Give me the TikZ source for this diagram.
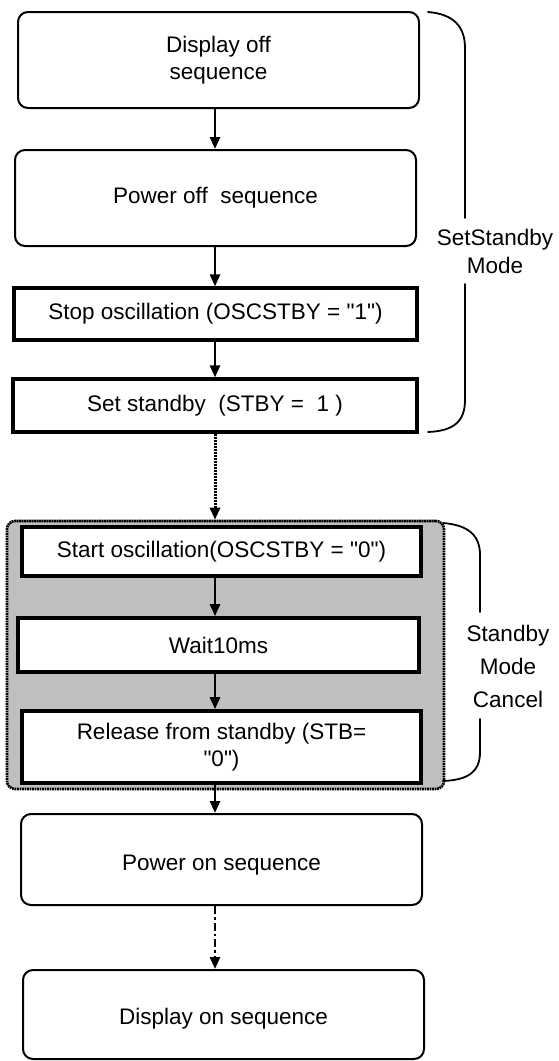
\documentclass[tikz,border=0pt]{standalone}
\usepackage{fontspec}
\setmainfont{Liberation Sans}[Ligatures=TeXOff]
\usetikzlibrary{arrows.meta}
\newcommand{\lowertext}[2]{\raisebox{-#1}[\height][\depth]{#2}}
\begin{document}
\begin{tikzpicture}[x=1pt,y=-1pt,
  every node/.style={font=\fontsize{22.5}{27}\selectfont, align=center, inner sep=0pt},
  rbox/.style={draw, line width=2pt, rounded corners=10pt, fill=white},
  sbox/.style={draw, line width=3.2pt, fill=white},
  gbox/.style={sbox, line width=3.6pt},
  graybox/.style={draw, line width=2.6pt, dash pattern=on 1.8pt off 0.7pt, rounded corners=8pt, fill=gray!50},
  arr/.style={line width=2.6pt, -{Triangle[length=12pt,width=10pt]}},
  dotarr/.style={arr, line width=3pt, dash pattern=on 2.4pt off 0.6pt},
  dasharr/.style={arr, dash pattern=on 8pt off 3pt on 2.5pt off 3pt},
  bracepath/.style={line width=1.8pt, line join=round, line cap=round},
  bracetext/.style={font=\fontsize{22.5}{28}\selectfont}]
\useasboundingbox (0,0) rectangle (558,1061);
\coordinate (ax) at (215,0);

% group background
\node[graybox, minimum width=437pt, minimum height=268pt] (grp) at (225.5,655) {};

% boxes
\node[rbox, minimum width=401pt, minimum height=96pt] (b1) at (218.5,60) {Display off\\sequence};
\node[rbox, minimum width=401pt, minimum height=96pt] (b2) at (215.5,198) {Power off\ \ sequence};
\node[sbox, minimum width=403pt, minimum height=52pt] (b3) at (215.5,314) {Stop oscillation (OSCSTBY = "1")};
\node[sbox, minimum width=404pt, minimum height=53pt] (b4) at (215,405.5) {Set standby\ \ (STBY =\ \ 1 )};
\node[gbox, minimum width=399pt, minimum height=49pt] (b5) at (221.5,551.5) {Start oscillation(OSCSTBY = "0")};
\node[gbox, minimum width=401pt, minimum height=54pt] (b6) at (218.5,645) {Wait10ms};
\node[gbox, minimum width=399pt, minimum height=72pt] (b7) at (221.5,747) {Release from standby (STB=\\"0")};
\node[rbox, minimum width=401pt, minimum height=91pt] (b8) at (221.5,859.5) {\lowertext{6pt}{Power on sequence}};
\node[rbox, minimum width=401pt, minimum height=89pt] (b9) at (223.5,1014.5) {\lowertext{4pt}{Display on sequence}};

% connectors
\draw[arr] (b1.south -| ax) -- (b2.north -| ax);
\draw[arr] (b2.south -| ax) -- (b3.north -| ax);
\draw[arr] (b3.south -| ax) -- (b4.north -| ax);
\draw[dotarr] (b4.south -| ax) -- (grp.north -| ax);
\draw[arr] (b5.south -| ax) -- (b6.north -| ax);
\draw[arr] (b6.south -| ax) -- (b7.north -| ax);
\draw[arr] (b7.south -| ax) -- (b8.north -| ax);
\draw[dasharr] (b8.south -| ax) -- (b9.north -| ax);

% brace 1
\node[bracetext] (t1) at (495,251) {SetStandby\\Mode};
\coordinate (s1t) at (428,12);
\coordinate (s1b) at (428,432);
\draw[bracepath] (s1t) .. controls (453,14) and (465,26) .. (465,48) -- (465,218);
\draw[bracepath] (465,284) -- (465,400) .. controls (465,422) and (453,431) .. (s1b);

% brace 2
\node[bracetext, font=\fontsize{22.5}{33}\selectfont] (t2) at (508,666) {Standby\\Mode\\Cancel};
\coordinate (s2t) at (443,523);
\coordinate (s2b) at (443,781);
\draw[bracepath] (s2t) .. controls (468,525) and (480,535) .. (480,555) -- (480,612);
\draw[bracepath] (480,719) -- (480,752) .. controls (480,772) and (468,780) .. (s2b);
\end{tikzpicture}
\end{document}
